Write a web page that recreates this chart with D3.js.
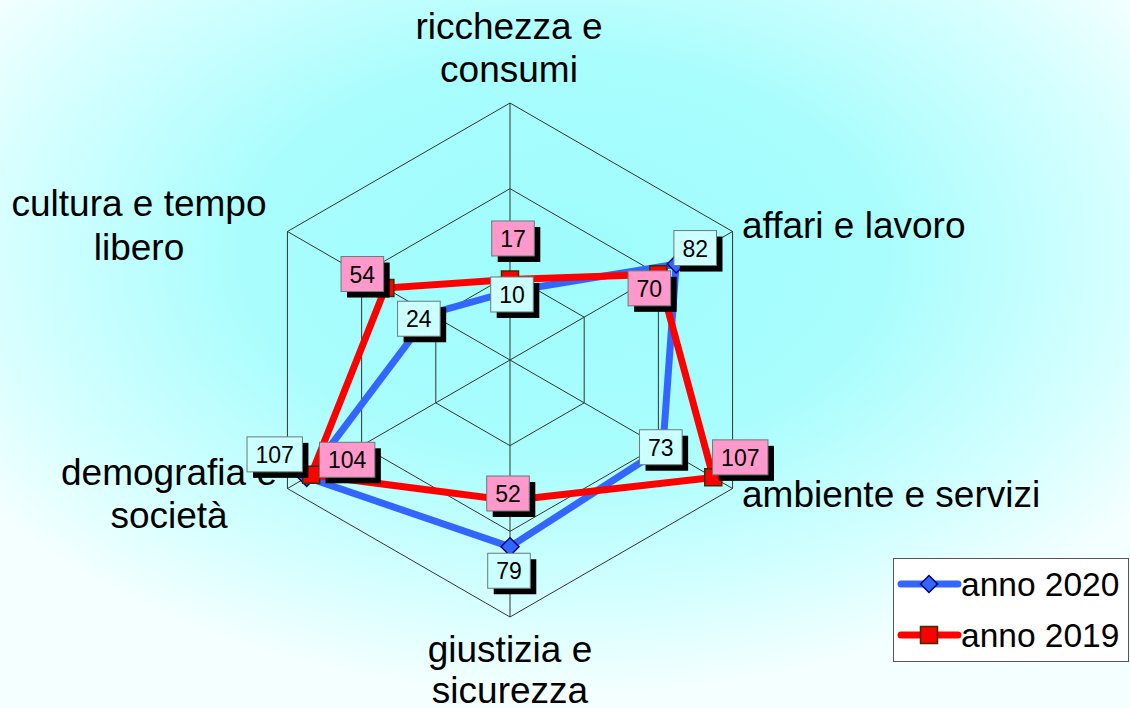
<!DOCTYPE html>
<html>
<head>
<meta charset="utf-8">
<script src="https://cdn.jsdelivr.net/npm/d3@7"></script>
<style>
  html, body { margin: 0; padding: 0; overflow: hidden; background: #fff; }
  svg { display: block; }
  text { font-family: "Liberation Sans", Arial, sans-serif; fill: #000; }
</style>
</head>
<body>
<svg id="chart" width="1130" height="708"></svg>
<script>
// ---- data ----
const categories = [
  "ricchezza e\nconsumi",
  "affari e lavoro",
  "ambiente e servizi",
  "giustizia e\nsicurezza",
  "demografia e\nsocietà",
  "cultura e tempo\nlibero"
];
const seriesNames = ["anno 2020", "anno 2019"];
const values2020 = [10, 82, 73, 79, 107, 24];
const values2019 = [17, 70, 107, 52, 104, 54];
const gridTicks = [20, 70, 120];
const axisMin = -30;
const axisMax = 120;

// ---- layout ----
const W = 1130, H = 708;
const cx = 510, cy = 360, outerR = 257;

// where each category caption sits (x, first baseline, anchor, line height)
const captionLayout = [
  { x: 509, y: 39,  anchor: "middle", lh: 43 },
  { x: 742, y: 238, anchor: "start",  lh: 43 },
  { x: 742, y: 507, anchor: "start",  lh: 43 },
  { x: 510, y: 662, anchor: "middle", lh: 41 },
  { x: 169, y: 485, anchor: "middle", lh: 43 },
  { x: 139, y: 216, anchor: "middle", lh: 44 }
];
// value-box offsets from their points
const boxOffsets2020 = [[2, 3], [19, -16], [-2, -1], [-1, 24], [-32, -23], [-11, 5]];
const boxOffsets2019 = [[3, -41], [-9, 14], [27, -20], [-2, -7], [36, -15], [-23, -14]];

const svg = d3.select("#chart");
const defs = svg.append("defs");

// background wash
const bg = defs.append("radialGradient")
  .attr("id", "bgWash")
  .attr("cx", 0.5).attr("cy", 0.36).attr("r", 0.62)
  .attr("fx", 0.5).attr("fy", 0.36);
bg.append("stop").attr("offset", 0).attr("stop-color", "#9ffcfc");
bg.append("stop").attr("offset", 0.45).attr("stop-color", "#a9fdfd");
bg.append("stop").attr("offset", 0.8).attr("stop-color", "#d6ffff");
bg.append("stop").attr("offset", 1).attr("stop-color", "#f4ffff");

svg.append("rect").attr("width", W).attr("height", H).attr("fill", "url(#bgWash)");

const r = d3.scaleLinear().domain([axisMin, axisMax]).range([0, outerR]);
const n = categories.length;
const angle = i => i * 2 * Math.PI / n;
const px = (i, v) => cx + r(v) * Math.sin(angle(i));
const py = (i, v) => cy - r(v) * Math.cos(angle(i));

const g = svg.append("g").attr("transform", `translate(${cx},${cy})`);

// grid rings
const ring = d3.lineRadial()
  .angle((d, i) => angle(i))
  .radius(d => r(d))
  .curve(d3.curveLinearClosed);

g.selectAll("path.ring")
  .data(gridTicks)
  .join("path")
  .attr("class", "ring")
  .attr("d", t => ring(categories.map(() => t)))
  .attr("fill", "none")
  .attr("stroke", "#333")
  .attr("stroke-width", 1);

// spokes
g.selectAll("line.spoke")
  .data(categories)
  .join("line")
  .attr("class", "spoke")
  .attr("x1", 0).attr("y1", 0)
  .attr("x2", (d, i) => r(axisMax) * Math.sin(angle(i)))
  .attr("y2", (d, i) => -r(axisMax) * Math.cos(angle(i)))
  .attr("stroke", "#333")
  .attr("stroke-width", 1);

// category captions
categories.forEach((c, i) => {
  const L = captionLayout[i];
  const t = svg.append("text")
    .attr("x", L.x).attr("y", L.y)
    .attr("text-anchor", L.anchor)
    .style("font-size", "37px");
  c.split("\n").forEach((line, k) => {
    t.append("tspan").attr("x", L.x).attr("dy", k === 0 ? 0 : L.lh).text(line);
  });
});

// series
const series = [
  { name: seriesNames[0], values: values2020, color: "#3366ff", mark: "diamond", markFill: "#3366ff", markStroke: "#000080", boxFill: "#ccffff", offsets: boxOffsets2020 },
  { name: seriesNames[1], values: values2019, color: "#ff0000", mark: "square",  markFill: "#ff0000", markStroke: "#333300", boxFill: "#ff99cc", offsets: boxOffsets2019 }
];

const lineGen = d3.lineRadial()
  .angle((d, i) => angle(i))
  .radius(d => r(d))
  .curve(d3.curveLinearClosed);

const diamond = s => `M0,${-s}L${s},0L0,${s}L${-s},0Z`;
const square = s => `M${-s},${-s}H${s}V${s}H${-s}Z`;

series.forEach(s => {
  g.append("path")
    .attr("d", lineGen(s.values))
    .attr("fill", "none")
    .attr("stroke", s.color)
    .attr("stroke-width", 7)
    .attr("stroke-linejoin", "miter");
  g.selectAll(null)
    .data(s.values)
    .join("path")
    .attr("transform", (d, i) => `translate(${px(i, d) - cx},${py(i, d) - cy})`)
    .attr("d", s.mark === "diamond" ? diamond(9) : square(8.5))
    .attr("fill", s.markFill)
    .attr("stroke", s.markStroke)
    .attr("stroke-width", 1.5);
});

// value boxes
series.forEach(s => {
  s.values.forEach((v, i) => {
    const bx = px(i, v) + s.offsets[i][0];
    const by = py(i, v) + s.offsets[i][1];
    const lg = svg.append("g").attr("transform", `translate(${bx},${by})`);
    const txt = lg.append("text")
      .attr("text-anchor", "middle")
      .attr("y", 8.5)
      .style("font-size", "23px")
      .text(v);
    const tw = txt.node().getComputedTextLength();
    const bw = tw + 17, bh = 35;
    lg.insert("rect", "text")
      .attr("x", -bw / 2 + 6).attr("y", -bh / 2 + 6)
      .attr("width", bw).attr("height", bh)
      .attr("fill", "#000");
    lg.insert("rect", "text")
      .attr("x", -bw / 2).attr("y", -bh / 2)
      .attr("width", bw).attr("height", bh)
      .attr("fill", s.boxFill)
      .attr("stroke", "#6a7a7a")
      .attr("stroke-width", 1);
  });
});

// legend
const leg = svg.append("g");
leg.append("rect")
  .attr("x", 893.5).attr("y", 558.5)
  .attr("width", 235).attr("height", 103)
  .attr("fill", "#fff")
  .attr("stroke", "#555")
  .attr("stroke-width", 1);
series.forEach((s, k) => {
  const yy = 584 + k * 51;
  leg.append("line")
    .attr("x1", 901).attr("x2", 958)
    .attr("y1", yy).attr("y2", yy)
    .attr("stroke", s.color)
    .attr("stroke-width", 7)
    .attr("stroke-linecap", "round");
  leg.append("path")
    .attr("transform", `translate(929,${yy})`)
    .attr("d", s.mark === "diamond" ? diamond(8.5) : square(8.5))
    .attr("fill", s.mark === "diamond" ? "#3366ff" : s.markFill)
    .attr("stroke", s.markStroke)
    .attr("stroke-width", 1.5);
  leg.append("text")
    .attr("x", 961).attr("y", yy + 12)
    .style("font-size", "33.5px")
    .text(s.name);
});
</script>
</body>
</html>
